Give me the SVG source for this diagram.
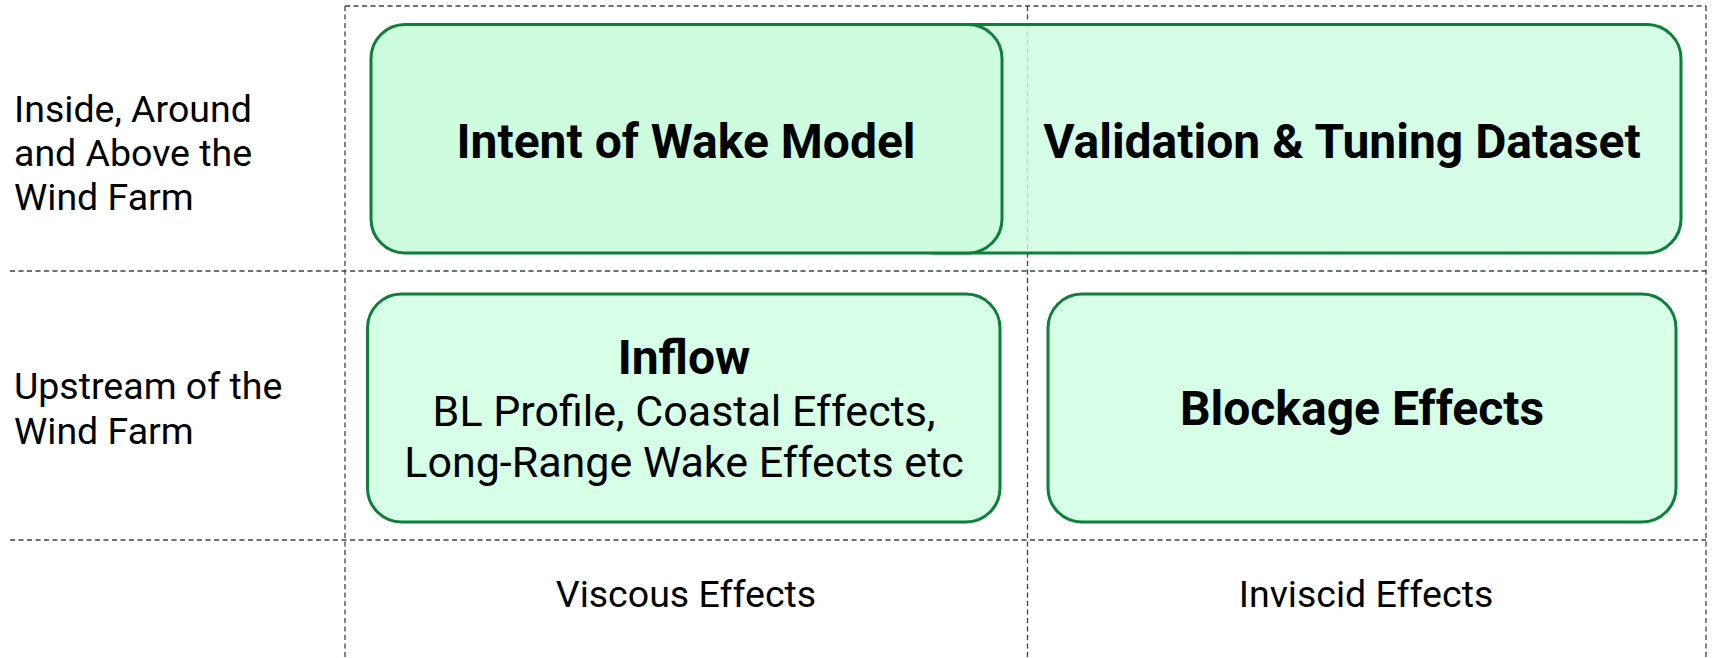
<svg xmlns="http://www.w3.org/2000/svg" width="1715" height="658" viewBox="0 0 1715 658">
<style>
.grid{stroke:#3a4450;stroke-width:1.3;stroke-dasharray:5,3.5;fill:none}
.box{stroke:#0e7f38;stroke-width:3}
.t{font-family:Roboto,"Liberation Sans",sans-serif;fill:#000}
.b{font-weight:bold;font-size:48px;text-anchor:middle}
.r{font-size:37.5px}
.s{font-size:43px;text-anchor:middle}
.c{text-anchor:middle}
</style>
<rect width="1715" height="658" fill="#fff"/>
<g id="grid">
<line class="grid" x1="345" y1="6" x2="1706" y2="6"/>
<line class="grid" x1="10" y1="271" x2="1706" y2="271"/>
<line class="grid" x1="10" y1="540" x2="1706" y2="540"/>
<line class="grid" x1="345" y1="6" x2="345" y2="658"/>
<line class="grid" x1="1027.5" y1="6" x2="1027.5" y2="658"/>
<line class="grid" x1="1706" y1="6" x2="1706" y2="658"/>
</g>
<g id="row-labels">
<text class="t r" x="14" y="121.5">Inside, Around</text>
<text class="t r" x="14" y="166">and Above the</text>
<text class="t r" x="14" y="210">Wind Farm</text>
<text class="t r" x="14" y="399">Upstream of the</text>
<text class="t r" x="14" y="444">Wind Farm</text>
</g>
<g id="col-labels">
<text class="t r c" x="686" y="607">Viscous Effects</text>
<text class="t r c" x="1366" y="607">Inviscid Effects</text>
</g>
<g id="validation">
<rect class="box" x="900" y="24.5" width="781" height="228.5" rx="34" fill="#cdfcdf" fill-opacity="0.82"/>
<text class="t b" x="1342" y="158">Validation &amp; Tuning Dataset</text>
</g>
<g id="intent">
<rect class="box" x="371" y="24.5" width="631" height="228.5" rx="34" fill="#cefcdf"/>
<text class="t b" x="686" y="158">Intent of Wake Model</text>
</g>
<g id="inflow">
<rect class="box" x="367.5" y="294" width="632.5" height="228" rx="34" fill="#d7fee6"/>
<text class="t b" x="684" y="374">Inflow</text>
<text class="t s" x="684" y="426">BL Profile, Coastal Effects,</text>
<text class="t s" x="684" y="477">Long-Range Wake Effects etc</text>
</g>
<g id="blockage">
<rect class="box" x="1048" y="294" width="628" height="228" rx="34" fill="#d7fee6"/>
<text class="t b" x="1362" y="425">Blockage Effects</text>
</g>
</svg>
